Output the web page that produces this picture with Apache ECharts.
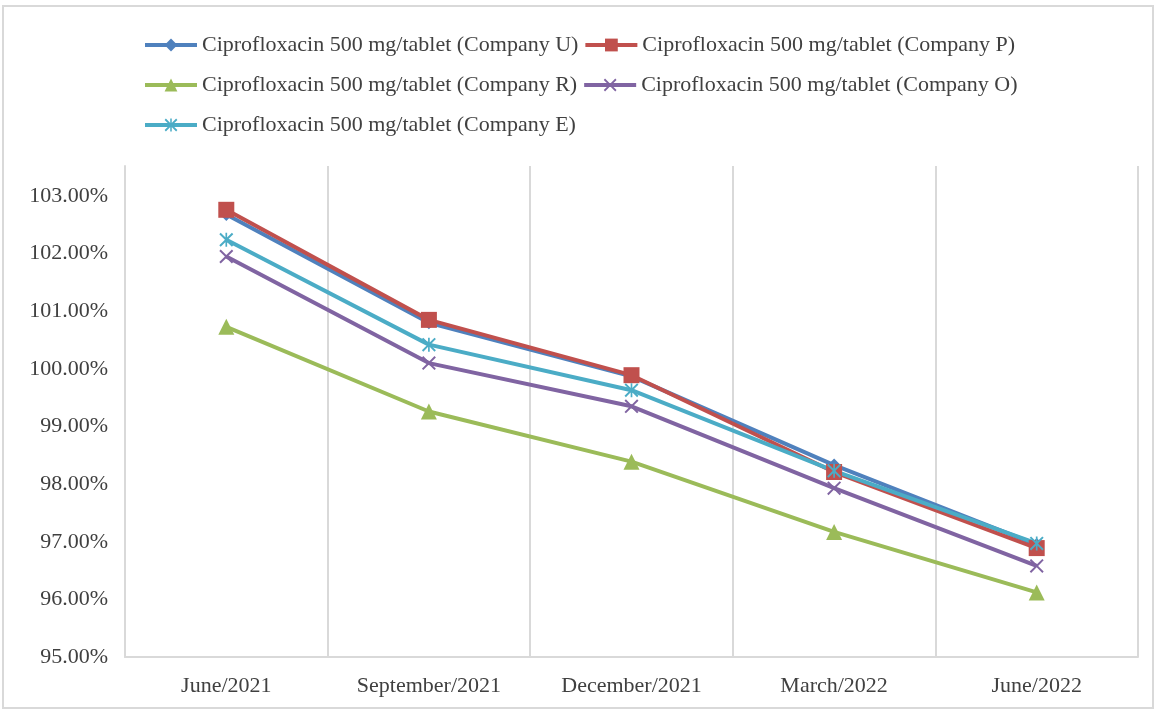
<!DOCTYPE html>
<html>
<head>
<meta charset="utf-8">
<script src="https://cdn.jsdelivr.net/npm/echarts@6/dist/echarts.min.js"></script>
<style>
  html, body { margin: 0; padding: 0; background: #fff; }
  #chart { width: 1156px; height: 711px; }
</style>
</head>
<body>
<div id="chart"></div>
<script>
const periods = ['June/2021', 'September/2021', 'December/2021', 'March/2022', 'June/2022'];

const companyU = [102.68, 100.80, 99.87, 98.33, 96.95];
const companyP = [102.76, 100.85, 99.89, 98.21, 96.89];
const companyR = [100.73, 99.26, 98.39, 97.17, 96.12];
const companyO = [101.95, 100.10, 99.35, 97.93, 96.58];
const companyE = [102.24, 100.42, 99.63, 98.23, 96.97];

const names = [
    'Ciprofloxacin 500 mg/tablet (Company U)',
    'Ciprofloxacin 500 mg/tablet (Company P)',
    'Ciprofloxacin 500 mg/tablet (Company R)',
    'Ciprofloxacin 500 mg/tablet (Company O)',
    'Ciprofloxacin 500 mg/tablet (Company E)'
];

const chart = echarts.init(document.getElementById('chart'));

const xMark = 'path://M0,1 L1,0 L5,4 L9,0 L10,1 L6,5 L10,9 L9,10 L5,6 L1,10 L0,9 L4,5 Z';
const starMark = 'path://M0,1 L1,0 L5,4 L9,0 L10,1 L6,5 L10,9 L9,10 L5,6 L1,10 L0,9 L4,5 Z M4.4,0 L5.6,0 L5.6,10 L4.4,10 Z';

function makeSeries(name, data, color, symbol, size) {
    return {
        name: name,
        type: 'line',
        data: data,
        symbol: symbol,
        symbolSize: size,
        lineStyle: { color: color, width: 4 },
        itemStyle: { color: color },
        emphasis: { disabled: true }
    };
}

const legendBase = {
    left: 138,
    itemWidth: 52,
    itemHeight: 16,
    itemGap: 5,
    lineStyle: { width: 4 },
    textStyle: { fontFamily: 'Liberation Serif', fontSize: 22, color: '#404040' }
};

const option = {
    animation: false,
    graphic: [{
        type: 'rect',
        shape: { x: 3, y: 6, width: 1150, height: 702 },
        style: { fill: 'none', stroke: '#d9d9d9', lineWidth: 2 },
        silent: true
    }],
    legend: [
        Object.assign({}, legendBase, { top: 29, data: [names[0], names[1]] }),
        Object.assign({}, legendBase, { top: 69, data: [names[2], names[3]] }),
        Object.assign({}, legendBase, { top: 109, data: [names[4]] })
    ],
    grid: { left: 125, right: 18, top: 166, bottom: 54 },
    xAxis: {
        type: 'category',
        data: periods,
        boundaryGap: true,
        axisLine: { lineStyle: { color: '#d9d9d9', width: 2 } },
        axisTick: { show: false },
        splitLine: { show: true, lineStyle: { color: '#d9d9d9', width: 2 } },
        axisLabel: { fontFamily: 'Liberation Serif', fontSize: 22, color: '#404040', margin: 18 }
    },
    yAxis: {
        type: 'value',
        min: 95,
        max: 103.52,
        interval: 1,
        axisLine: { show: true, lineStyle: { color: '#d9d9d9', width: 2 } },
        axisTick: { show: false },
        splitLine: { show: false },
        axisLabel: {
            fontFamily: 'Liberation Serif',
            fontSize: 22,
            color: '#404040',
            margin: 17,
            formatter: function (v) {
                if (Math.abs(v - Math.round(v)) > 1e-6) return '';
                return v.toFixed(2) + '%';
            }
        }
    },
    series: [
        makeSeries(names[0], companyU, '#4F81BD', 'diamond', 13),
        makeSeries(names[1], companyP, '#C0504D', 'rect', 16),
        makeSeries(names[2], companyR, '#9BBB59', 'triangle', 16),
        makeSeries(names[3], companyO, '#8064A2', xMark, 14),
        makeSeries(names[4], companyE, '#4BACC6', starMark, 14)
    ]
};

chart.setOption(option);
</script>
</body>
</html>
